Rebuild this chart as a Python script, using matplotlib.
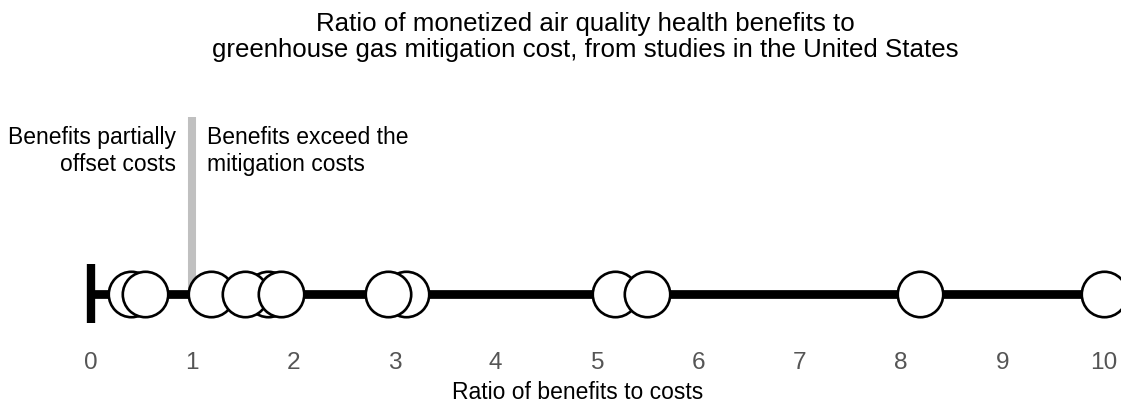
import matplotlib
matplotlib.use("Agg")
import matplotlib.pyplot as plt

plt.rcParams['font.family'] = ['Liberation Sans', 'DejaVu Sans']

# ratios (drawing order: later ones sit on top)
ratios = [0.40, 0.54, 1.19, 1.75, 1.53, 1.88, 3.11, 2.94, 5.18, 5.49, 8.19, 10.0]
tick_vals = [0, 1, 2, 3, 4, 5, 6, 7, 8, 9, 10]
threshold = 1

title = ("Ratio of monetized air quality health benefits to\n"
         "greenhouse gas mitigation cost, from studies in the United States")
left_note = "Benefits partially\noffset costs"
right_note = "Benefits exceed the\nmitigation costs"
xlabel = "Ratio of benefits to costs"

W, H = 1121, 406
fig = plt.figure(figsize=(W / 100, H / 100), dpi=100)
# axes bottom sits on the line (y = 295 px from top), top at the grey bar top
ax = fig.add_axes([0, (H - 295) / H, 1, (295 - 118) / H])
ax.set_xlim(-90.5 / 101.3, (W - 90.5) / 101.3)
ax.set_ylim(0, 1)

# main line and the end bar at 0
ax.plot([tick_vals[0], tick_vals[-1]], [0, 0], color='black', lw=6.3, solid_capstyle='butt',
        clip_on=False, zorder=2)
ax.plot([0, 0], [-29 / 177, 30 / 177], color='black', lw=6, solid_capstyle='butt',
        clip_on=False, zorder=2)
# grey threshold bar
ax.plot([threshold, threshold], [0, 1], color='#c0c0c0', lw=5.8, solid_capstyle='butt',
        clip_on=False, zorder=1)

ax.scatter(ratios, [0] * len(ratios), s=1070, facecolor='white', edgecolor='black',
           linewidths=1.9, clip_on=False, zorder=3)

for s in ax.spines.values():
    s.set_visible(False)
ax.set_yticks([])
ax.set_xticks(tick_vals)
ax.set_xticklabels([str(t) for t in tick_vals])
ax.tick_params(axis='x', length=0, pad=41, labelsize=17.6, labelcolor='#555555')
ax.set_xlabel(xlabel, fontsize=16.5, labelpad=5, x=0.515)
ax.patch.set_visible(False)

fig.text(585 / W, 1 - 37 / H, title, ha='center', va='center', fontsize=18.6,
         linespacing=1.15)
fig.text(176 / W, 1 - 151 / H, left_note, ha='right', va='center', fontsize=16.5,
         linespacing=1.25)
fig.text(207 / W, 1 - 151 / H, right_note, ha='left', va='center', fontsize=16.5,
         linespacing=1.25)

fig.savefig("out.png", dpi=100, facecolor='white')
